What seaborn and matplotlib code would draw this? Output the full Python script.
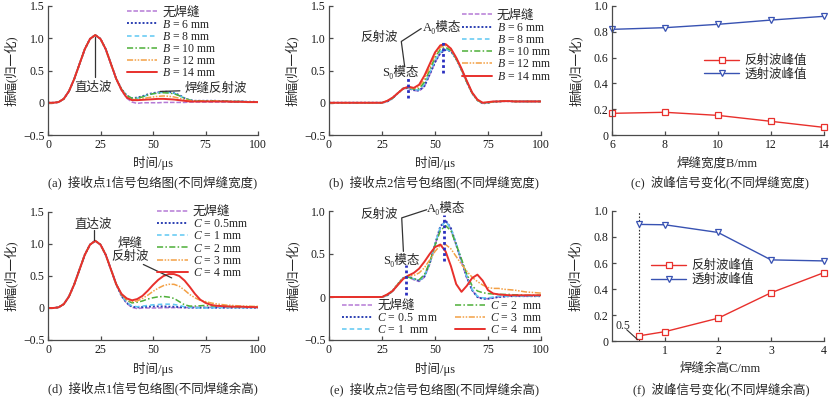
import numpy as np
import matplotlib
matplotlib.use('Agg')
import matplotlib.pyplot as plt
import seaborn as sns

# ---------------- data ----------------
t = np.arange(0, 100.01, 2.5)          # time grid (us)

# direct wave at receiver 1, t = 0 .. 32.5
direct_wave = [0.0, 0.0, 0.01, 0.06, 0.18, 0.37, 0.60, 0.83, 0.99, 1.05, 0.99, 0.83, 0.60, 0.37]

# panel (a) tails, t = 35 .. 100
a_none = [0.19, 0.07, 0.01, -0.01, 0.0, 0.0, 0.0, 0.0, 0.005, 0.005, 0.005, 0.005, 0.005,
          0.01, 0.01, 0.01, 0.01, 0.01, 0.01, 0.01, 0.01, 0.01, 0.01, 0.01, 0.01, 0.01, 0.01]
a_B6 = [0.21, 0.11, 0.07, 0.08, 0.10, 0.13, 0.15, 0.16, 0.17, 0.17, 0.15, 0.12, 0.07, 0.04,
        0.03, 0.03, 0.03, 0.03, 0.03, 0.025, 0.025, 0.02, 0.02, 0.02, 0.015, 0.015, 0.01]
a_B8 = [0.21, 0.11, 0.07, 0.07, 0.09, 0.12, 0.14, 0.155, 0.16, 0.16, 0.15, 0.11, 0.07, 0.04,
        0.03, 0.03, 0.03, 0.03, 0.03, 0.025, 0.025, 0.02, 0.02, 0.02, 0.015, 0.015, 0.01]
a_B10 = [0.21, 0.11, 0.07, 0.07, 0.09, 0.12, 0.14, 0.15, 0.155, 0.15, 0.14, 0.11, 0.07, 0.04,
         0.03, 0.03, 0.03, 0.03, 0.03, 0.025, 0.025, 0.02, 0.02, 0.02, 0.015, 0.015, 0.01]
a_B12 = [0.20, 0.09, 0.05, 0.05, 0.06, 0.08, 0.09, 0.10, 0.105, 0.10, 0.09, 0.07, 0.05, 0.03,
         0.025, 0.025, 0.025, 0.025, 0.025, 0.02, 0.02, 0.02, 0.02, 0.015, 0.015, 0.01, 0.01]
a_B14 = [0.20, 0.08, 0.04, 0.04, 0.045, 0.05, 0.055, 0.06, 0.06, 0.055, 0.05, 0.04, 0.03, 0.02,
         0.02, 0.02, 0.02, 0.02, 0.02, 0.02, 0.02, 0.015, 0.015, 0.015, 0.01, 0.01, 0.01]

# panel (d) tails, t = 35 .. 100
d_C05 = [0.19, 0.08, 0.02, 0.01, 0.015, 0.02, 0.025, 0.025, 0.025, 0.02, 0.02, 0.015, 0.01,
         0.005, 0.005, 0.005, 0.005, 0.005, 0.005, 0.005, 0.005, 0.005, 0.005, 0.005, 0.005, 0.005, 0.005]
d_C1 = [0.20, 0.09, 0.03, 0.02, 0.03, 0.04, 0.05, 0.055, 0.06, 0.06, 0.055, 0.04, 0.02, 0.01,
        0.005, 0.0, 0.0, 0.0, 0.005, 0.005, 0.005, 0.005, 0.005, 0.005, 0.005, 0.005, 0.005]
d_C2 = [0.21, 0.12, 0.08, 0.09, 0.11, 0.14, 0.16, 0.175, 0.18, 0.17, 0.15, 0.10, 0.05, 0.03,
        0.03, 0.035, 0.04, 0.035, 0.03, 0.03, 0.025, 0.025, 0.02, 0.02, 0.02, 0.02, 0.02]
d_C3 = [0.21, 0.13, 0.10, 0.11, 0.15, 0.20, 0.26, 0.31, 0.35, 0.37, 0.37, 0.34, 0.28, 0.21,
        0.16, 0.12, 0.10, 0.08, 0.065, 0.055, 0.045, 0.04, 0.035, 0.03, 0.03, 0.025, 0.025]
d_C4 = [0.22, 0.15, 0.12, 0.14, 0.19, 0.27, 0.36, 0.44, 0.50, 0.53, 0.53, 0.50, 0.43, 0.33,
        0.22, 0.13, 0.08, 0.05, 0.035, 0.03, 0.025, 0.02, 0.02, 0.02, 0.015, 0.015, 0.01]

# receiver 2: zero before 25 us, then t = 25 .. 100
quiet = [0.0] * 10
b_none = [0.0, 0.02, 0.07, 0.15, 0.22, 0.22, 0.19, 0.18, 0.25, 0.43, 0.62, 0.77, 0.83, 0.81, 0.69,
          0.52, 0.33, 0.15, 0.04, -0.01, 0.0, 0.015, 0.02, 0.025, 0.025, 0.02, 0.02, 0.02, 0.02, 0.02, 0.02]
b_B6 = [0.0, 0.02, 0.07, 0.15, 0.22, 0.23, 0.20, 0.19, 0.26, 0.44, 0.63, 0.77, 0.82, 0.80, 0.68,
        0.51, 0.32, 0.15, 0.04, -0.01, 0.0, 0.015, 0.02, 0.025, 0.025, 0.02, 0.02, 0.02, 0.02, 0.02, 0.02]
b_B8 = [0.0, 0.02, 0.07, 0.15, 0.22, 0.23, 0.20, 0.20, 0.29, 0.47, 0.66, 0.79, 0.83, 0.80, 0.68,
        0.51, 0.32, 0.15, 0.04, -0.01, 0.0, 0.015, 0.02, 0.025, 0.025, 0.02, 0.02, 0.02, 0.02, 0.02, 0.02]
b_B10 = [0.0, 0.03, 0.07, 0.15, 0.22, 0.24, 0.21, 0.22, 0.32, 0.51, 0.70, 0.83, 0.86, 0.81, 0.68,
         0.51, 0.32, 0.15, 0.04, -0.01, 0.0, 0.015, 0.02, 0.025, 0.025, 0.02, 0.02, 0.02, 0.02, 0.02, 0.02]
b_B12 = [0.0, 0.03, 0.08, 0.15, 0.22, 0.24, 0.22, 0.25, 0.37, 0.55, 0.74, 0.86, 0.89, 0.83, 0.69,
         0.52, 0.33, 0.15, 0.04, 0.0, 0.005, 0.015, 0.02, 0.025, 0.025, 0.02, 0.02, 0.02, 0.02, 0.02, 0.02]
b_B14 = [0.0, 0.03, 0.08, 0.15, 0.22, 0.25, 0.23, 0.28, 0.42, 0.60, 0.78, 0.89, 0.91, 0.84, 0.70,
         0.53, 0.34, 0.16, 0.05, 0.0, 0.01, 0.02, 0.02, 0.025, 0.025, 0.02, 0.02, 0.02, 0.02, 0.02, 0.02]

e_none = [0.0, 0.02, 0.07, 0.15, 0.22, 0.23, 0.20, 0.18, 0.23, 0.38, 0.60, 0.81, 0.89, 0.79, 0.60,
          0.41, 0.22, 0.08, 0.0, -0.02, -0.02, -0.01, 0.0, 0.005, 0.01, 0.01, 0.01, 0.01, 0.01, 0.01, 0.01]
e_C05 = [0.0, 0.02, 0.07, 0.15, 0.22, 0.24, 0.21, 0.19, 0.24, 0.39, 0.61, 0.82, 0.89, 0.80, 0.61,
         0.42, 0.23, 0.08, 0.0, -0.02, -0.02, -0.01, 0.0, 0.005, 0.01, 0.01, 0.01, 0.01, 0.01, 0.01, 0.01]
e_C1 = [0.0, 0.02, 0.07, 0.15, 0.22, 0.24, 0.21, 0.19, 0.24, 0.39, 0.61, 0.81, 0.88, 0.80, 0.62,
        0.43, 0.24, 0.09, 0.01, -0.01, -0.01, 0.0, 0.01, 0.01, 0.01, 0.01, 0.01, 0.01, 0.01, 0.01, 0.01]
e_C2 = [0.0, 0.02, 0.07, 0.15, 0.22, 0.23, 0.21, 0.20, 0.26, 0.40, 0.60, 0.77, 0.83, 0.77, 0.61,
        0.44, 0.27, 0.13, 0.07, 0.05, 0.04, 0.035, 0.03, 0.03, 0.03, 0.025, 0.025, 0.02, 0.02, 0.02, 0.02]
e_C3 = [0.0, 0.03, 0.08, 0.15, 0.22, 0.25, 0.25, 0.28, 0.34, 0.43, 0.53, 0.60, 0.61, 0.56, 0.47,
        0.38, 0.30, 0.23, 0.18, 0.14, 0.11, 0.10, 0.10, 0.09, 0.085, 0.08, 0.07, 0.06, 0.055, 0.05, 0.045]
e_C4 = [0.0, 0.03, 0.07, 0.14, 0.21, 0.25, 0.28, 0.33, 0.41, 0.50, 0.58, 0.61, 0.53, 0.36, 0.15,
        0.06, 0.13, 0.22, 0.26, 0.19, 0.08, 0.04, 0.03, 0.025, 0.02, 0.02, 0.02, 0.02, 0.02, 0.02, 0.02]

# peak values
B_width = [6, 8, 10, 12, 14]
c_reflect = [0.168, 0.176, 0.152, 0.106, 0.059]
c_transmit = [0.819, 0.832, 0.858, 0.891, 0.920]
C_height = [0.5, 1, 2, 3, 4]
f_reflect = [0.039, 0.072, 0.175, 0.371, 0.526]
f_transmit = [0.897, 0.894, 0.835, 0.624, 0.616]

labels_B = ['无焊缝', '$B$ = 6 mm', '$B$ = 8 mm', '$B$ = 10 mm', '$B$ = 12 mm', '$B$ = 14 mm']
labels_C = ['无焊缝', '$C$ = 0.5mm', '$C$ = 1 mm', '$C$ = 2 mm', '$C$ = 3 mm', '$C$ = 4 mm']
labels_Ce = ['无焊缝', '$C$ = 0.5  mm', '$C$ = 1  mm', '$C$ = 2  mm', '$C$ = 3  mm', '$C$ = 4  mm']
peak_labels = ['反射波峰值', '透射波峰值']
wave_yticks = [-0.5, 0, 0.5, 1.0, 1.5]
wave_yticklabels = ['−0.5', '0', '0.5', '1.0', '1.5']
time_ticks = [0, 25, 50, 75, 100]
peak_yticks = [0, 0.2, 0.4, 0.6, 0.8, 1.0]
peak_yticklabels = ['0', '0.2', '0.4', '0.6', '0.8', '1.0']

# ---------------- style ----------------
sns.set_theme(style='ticks')
GRAY = '#4a4a4a'
plt.rcParams.update({
    'font.family': ['Liberation Serif', 'Noto Sans CJK SC', 'DejaVu Sans'],
    'font.size': 8,
    'axes.edgecolor': GRAY, 'axes.linewidth': 0.9,
    'xtick.direction': 'in', 'ytick.direction': 'in',
    'xtick.major.size': 3, 'ytick.major.size': 3,
    'xtick.major.width': 0.9, 'ytick.major.width': 0.9,
    'xtick.color': GRAY, 'ytick.color': GRAY,
    'xtick.labelcolor': '#1a1a1a', 'ytick.labelcolor': '#1a1a1a',
    'xtick.labelsize': 8.5, 'ytick.labelsize': 8.5,
    'xtick.major.pad': 3, 'ytick.major.pad': 2.5,
    'mathtext.fontset': 'custom', 'mathtext.rm': 'Liberation Serif',
    'mathtext.it': 'Liberation Serif:italic',
})

W, H = 831, 398
fig = plt.figure(figsize=(W / 100, H / 100), dpi=100)


def axes_px(l, tp, r, b):
    return fig.add_axes([l / W, 1 - b / H, (r - l) / W, (b - tp) / H])


def ftext(x, y, s, **kw):
    fig.text(x / W, 1 - y / H, s, ha=kw.pop('ha', 'center'), va=kw.pop('va', 'center'), **kw)


styles = [
    dict(color='#b57ad6', linestyle=(0, (3, 1.2)), lw=1.1),
    dict(color='#2b3fb2', linestyle=(0, (1, 1)), lw=1.4),
    dict(color='#5ec8f2', linestyle=(0, (3, 2)), lw=1.1),
    dict(color='#4daf38', linestyle=(0, (4, 1.5, 1, 1.5)), lw=1.1),
    dict(color='#f3a045', linestyle=(0, (4, 1, 1, 1, 1, 1)), lw=1.1),
    dict(color='#e8302c', linestyle='-', lw=1.4),
]
RED = '#e8302c'
BLUE = '#3852b2'
ZH = 9
LEGFS = 8.5


def wave_axes(ax, ylim, yt, ytl):
    ax.set_xlim(0, 100)
    ax.set_ylim(*ylim)
    ax.set_xticks(time_ticks)
    ax.set_xticklabels([str(v) for v in time_ticks])
    ax.set_yticks(yt)
    ax.set_yticklabels(ytl)
    sns.despine(ax=ax)


def draw_waves(ax, series, labels):
    for vals, lab, st in zip(series, labels, styles):
        sns.lineplot(x=t, y=np.asarray(vals), ax=ax, label=lab, estimator=None, sort=False, **st)


def style_legend(leg):
    for tx in leg.get_texts():
        if '$' not in tx.get_text():
            tx.set_fontsize(ZH)


# ---- (a)
ax = axes_px(48, 6, 258, 135)
draw_waves(ax, [direct_wave + s for s in [a_none, a_B6, a_B8, a_B10, a_B12, a_B14]], labels_B)
wave_axes(ax, (-0.5, 1.5), wave_yticks, wave_yticklabels)
leg = ax.legend(loc='upper left', bbox_to_anchor=(0.375, 1.0), frameon=False, fontsize=LEGFS,
                handlelength=2.6, handletextpad=0.4, labelspacing=0.02, borderpad=0, borderaxespad=0)
style_legend(leg)
ax.plot([22.4, 22.4], [1.02, 0.40], color='#333333', lw=0.9)
ax.text(21.4, 0.23, '直达波', ha='center', va='center', fontsize=ZH)
ax.plot([53.3, 62.8], [0.175, 0.185], color='#333333', lw=0.9)
ax.text(65.0, 0.22, '焊缝反射波', ha='left', va='center', fontsize=ZH)

# ---- (b)
ax = axes_px(329, 6, 541, 135)
draw_waves(ax, [quiet + s for s in [b_none, b_B6, b_B8, b_B10, b_B12, b_B14]], labels_B)
wave_axes(ax, (-0.5, 1.5), wave_yticks, wave_yticklabels)
leg = ax.legend(loc='upper left', bbox_to_anchor=(0.625, 0.975), frameon=False, fontsize=LEGFS,
                handlelength=2.6, handletextpad=0.4, labelspacing=0.02, borderpad=0, borderaxespad=0)
style_legend(leg)
ax.plot([37.2, 37.2], [0.07, 0.40], color='#2a2fc0', lw=2, linestyle=(0, (1, 1)))
ax.plot([53.9, 53.9], [0.46, 0.97], color='#2a2fc0', lw=2, linestyle=(0, (1, 1)))
ax.plot([43.5, 34.1, 35.7], [1.15, 0.95, 0.56], color='#333333', lw=0.9)
ax.text(44.3, 1.17, 'A₀模态', ha='left', va='center', fontsize=ZH)
ax.text(23.6, 1.0, '反射波', ha='center', va='center', fontsize=ZH)
ax.text(33.5, 0.48, 'S₀模态', ha='center', va='center', fontsize=ZH)

# ---- (c)
ax = axes_px(612, 6, 824, 135)
sns.lineplot(x=B_width, y=c_reflect, ax=ax, color=RED, lw=1.0, marker='s', markersize=4.5,
             markerfacecolor='white', markeredgecolor=RED, markeredgewidth=0.9, label=peak_labels[0])
sns.lineplot(x=B_width, y=c_transmit, ax=ax, color=BLUE, lw=1.0, marker='v', markersize=4.5,
             markerfacecolor='white', markeredgecolor=BLUE, markeredgewidth=0.9, label=peak_labels[1])
ax.set_xlim(6, 14)
ax.set_ylim(0, 1.0)
ax.set_xticks(B_width)
ax.set_xticklabels([str(v) for v in B_width])
ax.set_yticks(peak_yticks)
ax.set_yticklabels(peak_yticklabels)
sns.despine(ax=ax)
for ln in ax.get_lines():
    ln.set_clip_on(False)
leg = ax.legend(loc='upper left', bbox_to_anchor=(0.435, 0.62), frameon=False, fontsize=ZH,
                handlelength=2.8, handletextpad=0.4, labelspacing=0.1, borderpad=0, borderaxespad=0)

# ---- (d)
ax = axes_px(48, 212, 258, 340)
draw_waves(ax, [direct_wave + s for s in [a_none, d_C05, d_C1, d_C2, d_C3, d_C4]], labels_C)
wave_axes(ax, (-0.5, 1.5), wave_yticks, wave_yticklabels)
leg = ax.legend(loc='upper left', bbox_to_anchor=(0.52, 1.05), frameon=False, fontsize=LEGFS,
                handlelength=2.6, handletextpad=0.4, labelspacing=0.02, borderpad=0, borderaxespad=0)
style_legend(leg)
ax.plot([22.0, 22.0], [1.22, 1.06], color='#333333', lw=0.9)
ax.text(21.7, 1.30, '直达波', ha='center', va='center', fontsize=ZH)
ax.text(39.0, 0.90, '焊缝\n反射波', ha='center', va='center', fontsize=ZH, linespacing=1.15)
ax.plot([45.4, 58.9], [0.68, 0.47], color='#333333', lw=0.9)

# ---- (e)
ax = axes_px(329, 211, 541, 340)
draw_waves(ax, [quiet + s for s in [e_none, e_C05, e_C1, e_C2, e_C3, e_C4]], labels_Ce)
wave_axes(ax, (-0.5, 1.0), wave_yticks[:4], wave_yticklabels[:4])
leg = ax.legend(loc='lower left', bbox_to_anchor=(0.06, 0.03), frameon=False, fontsize=LEGFS, ncol=2,
                handlelength=2.6, handletextpad=0.4, labelspacing=0.02, columnspacing=1.4,
                borderpad=0, borderaxespad=0)
style_legend(leg)
ax.plot([36.3, 36.3], [0.027, 0.375], color='#2a2fc0', lw=2, linestyle=(0, (1, 1)))
ax.plot([54.4, 54.4], [0.415, 0.957], color='#2a2fc0', lw=2, linestyle=(0, (1, 1)))
ax.plot([46.1, 34.3, 35.1], [1.015, 0.92, 0.53], color='#333333', lw=0.9, clip_on=False)
ax.text(46.2, 1.035, 'A₀模态', ha='left', va='center', fontsize=ZH)
ax.text(23.6, 0.957, '反射波', ha='center', va='center', fontsize=ZH)
ax.text(34.0, 0.434, 'S₀模态', ha='center', va='center', fontsize=ZH)

# ---- (f)
ax = axes_px(612, 211, 824, 341)
ax.plot([0.5, 0.5], [0, 1.0], color='#333333', lw=0.8, linestyle=(0, (1.5, 1.5)))
sns.lineplot(x=C_height, y=f_reflect, ax=ax, color=RED, lw=1.0, marker='s', markersize=4.5,
             markerfacecolor='white', markeredgecolor=RED, markeredgewidth=0.9, label=peak_labels[0])
sns.lineplot(x=C_height, y=f_transmit, ax=ax, color=BLUE, lw=1.0, marker='v', markersize=4.5,
             markerfacecolor='white', markeredgecolor=BLUE, markeredgewidth=0.9, label=peak_labels[1])
ax.set_xlim(0, 4)
ax.set_ylim(0, 1.0)
ax.set_xticks([1, 2, 3, 4])
ax.set_xticklabels(['1', '2', '3', '4'])
ax.set_yticks(peak_yticks)
ax.set_yticklabels(peak_yticklabels)
sns.despine(ax=ax)
for ln in ax.get_lines():
    ln.set_clip_on(False)
ax.plot([0.277, 0.485], [0.087, 0.01], color='#333333', lw=0.8)
ax.text(0.21, 0.113, '0.5', ha='center', va='center', fontsize=8.5)
h, l = ax.get_legend_handles_labels()
leg = ax.legend(h[-2:], l[-2:], loc='upper left', bbox_to_anchor=(0.185, 0.62), frameon=False,
                fontsize=ZH, handlelength=2.8, handletextpad=0.4, labelspacing=0.1,
                borderpad=0, borderaxespad=0)

# ---- axis labels and captions
for x in (11, 292, 576):
    ftext(x, 70.5, '振幅(归一化)', rotation=90, fontsize=ZH)
for x in (11, 293, 575):
    ftext(x, 276, '振幅(归一化)', rotation=90, fontsize=ZH)
ftext(153, 163, '时间/μs', fontsize=ZH)
ftext(435, 163, '时间/μs', fontsize=ZH)
ftext(717, 163, '焊缝宽度B/mm', fontsize=ZH)
ftext(153, 369, '时间/μs', fontsize=ZH)
ftext(435, 369, '时间/μs', fontsize=ZH)
ftext(720, 369, '焊缝余高C/mm', fontsize=ZH)
ftext(153, 182, '(a)  接收点1信号包络图(不同焊缝宽度)', fontsize=ZH)
ftext(434, 182, '(b)  接收点2信号包络图(不同焊缝宽度)', fontsize=ZH)
ftext(720, 182, '(c)  波峰信号变化(不同焊缝宽度)', fontsize=ZH)
ftext(153, 388, '(d)  接收点1信号包络图(不同焊缝余高)', fontsize=ZH)
ftext(435, 389, '(e)  接收点2信号包络图(不同焊缝余高)', fontsize=ZH)
ftext(721, 389, '(f)  波峰信号变化(不同焊缝余高)', fontsize=ZH)

fig.savefig('out.png', dpi=100)
